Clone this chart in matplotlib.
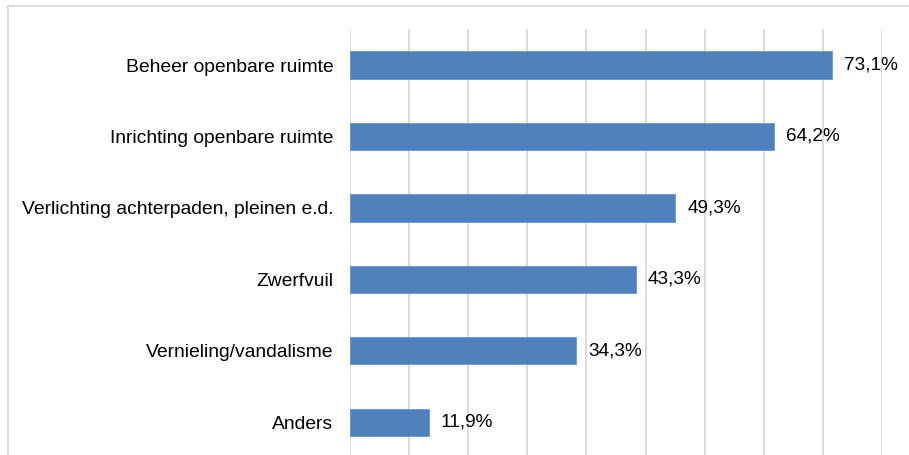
import matplotlib.pyplot as plt
from matplotlib.lines import Line2D

# --- Dati ---
categories = [
    "Beheer openbare ruimte",
    "Inrichting openbare ruimte",
    "Verlichting achterpaden, pleinen e.d.",
    "Zwerfvuil",
    "Vernieling/vandalisme",
    "Anders",
]
percentages = [73.1, 64.2, 49.3, 43.3, 34.3, 11.9]
value_labels = ["73,1%", "64,2%", "49,3%", "43,3%", "34,3%", "11,9%"]

plt.rcParams["font.family"] = ["Liberation Sans", "DejaVu Sans"]

W, H = 909, 455
fig = plt.figure(figsize=(W / 100, H / 100), dpi=100)
ax = fig.add_axes([350 / W, 1 - 458 / H, 532 / W, (458 - 29.3) / H])

y = list(range(len(categories)))[::-1]
ax.barh(y, percentages, height=0.38, color="#4F81BD", edgecolor="#6A95CC", linewidth=0.6, zorder=3)

for yi, v, lab in zip(y, percentages, value_labels):
    ax.text(v + 1.8, yi, lab, va="center", ha="left", fontsize=13.7, color="black")

ax.set_ylim(-0.5, len(categories) - 0.5)
ax.set_xlim(0, 80.6)
step = 8.955
ax.set_xticks([i * step for i in range(10)])
ax.set_xticklabels([])
ax.tick_params(axis="x", length=0)
ax.set_yticks(y)
ax.set_yticklabels(categories, fontsize=13.9)
ax.tick_params(axis="y", length=0, pad=12)
ax.grid(axis="x", color="#D9D9D9", linewidth=1.3, zorder=0)
for s in ax.spines.values():
    s.set_visible(False)

# --- Bordo del grafico ---
border = "#D9D9D9"
fig.add_artist(Line2D([8 / W, 1], [1 - 6 / H, 1 - 6 / H], color=border, linewidth=1.3))
fig.add_artist(Line2D([8 / W, 8 / W], [0, 1 - 6 / H], color=border, linewidth=1.3))

fig.savefig("out.png", dpi=100)
